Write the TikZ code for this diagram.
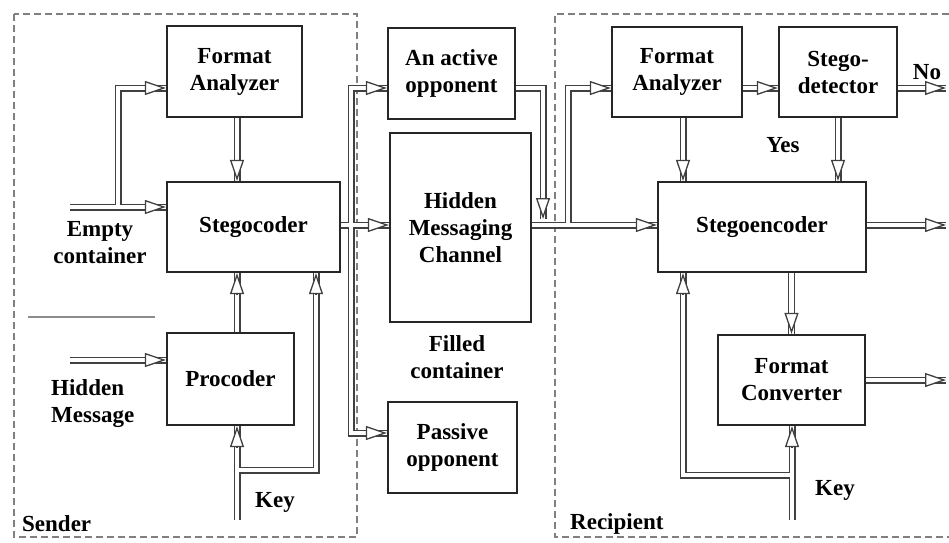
\documentclass[tikz,border=0pt]{standalone}
\usepackage{fontspec}
\setmainfont{Liberation Serif}
\usetikzlibrary{arrows.meta}
\pgfdeclarelayer{back}
\pgfsetlayers{back,main}
\begin{document}
\begin{tikzpicture}[x=1pt,y=-1pt,
  every node/.style={font=\fontsize{23}{27}\selectfont\bfseries},
  blk/.style 2 args={draw=black!85,line width=2.2pt,minimum width=#1,minimum height=#2,align=center,inner sep=0pt},
  lbl/.style={align=center,inner sep=0pt},
  pipe/.style={draw=black!75,line width=1.3pt,double=white,double distance=4.4pt},
  head/.style={draw=black!75,line width=1.3pt,-{Triangle[length=21pt,width=14pt,fill=white]}},
  frame/.style={draw=black!50,line width=1.3pt,dash pattern=on 7pt off 4pt}]
\useasboundingbox (0,0) rectangle (949,542);
\node[blk={135pt}{91pt}] (fa1) at (234.5,71.5) {Format\\Analyzer};
\node[blk={173pt}{90pt}] (sc) at (253.5,227) {Stegocoder};
\node[blk={127pt}{92pt}] (pc) at (230.5,379) {Procoder};
\node[blk={127pt}{91pt}] (act) at (451.5,73.5) {An active\\opponent};
\node[blk={141pt}{189pt}] (hmc) at (460.5,227.5) {Hidden\\Messaging\\Channel};
\node[blk={129pt}{91pt}] (pas) at (452.5,447.5) {Passive\\opponent};
\node[blk={130pt}{90pt}] (far) at (677,72) {Format\\Analyzer};
\node[blk={118pt}{90pt}] (sd) at (838,72) {Stego-\\detector};
\node[blk={208pt}{90pt}] (se) at (762,227) {Stegoencoder};
\node[blk={147pt}{90pt}] (fc) at (791.5,380) {Format\\Converter};
\node[lbl] (empty) at (100,243) {Empty\\container};
\node[lbl,align=left,anchor=west] (hidden) at (51,404) {Hidden\\Message};
\node[lbl] (filled) at (457,357) {Filled\\container};
\node[lbl] (key1) at (275,502) {Key};
\node[lbl] (key2) at (835,490) {Key};
\node[lbl] (no) at (927,72) {No};
\node[lbl] (yes) at (783,145) {Yes};
\node[lbl,anchor=west] (sender) at (22,524) {Sender};
\node[lbl,anchor=west] (recip) at (570,524) {Recipient};
\coordinate (ec) at (70,207);
\coordinate (hm) at (70,360);
\coordinate (k1) at (237,520);
\coordinate (drop) at (543,219);
\coordinate (noout) at (946,88);
\coordinate (seout) at (946,225);
\coordinate (fcout) at (946,380);
\coordinate (k2) at (792,520);
\begin{pgfonlayer}{back}
\draw[frame] (14,14) rectangle (357,537);
\draw[frame] (949,14) -| (555,537) -- (949,537);
\draw[black!45,line width=1.2pt] (28,317) -- (155,317);
\draw[pipe] (ec) -- (sc.west |- ec) (118,207) |- (fa1.west |- 0,88);
\draw[pipe] (hm) -- (pc.west |- hm);
\draw[pipe] (fa1.south -| 237,0) -- (sc.north -| 237,0);
\draw[pipe] (pc.north -| 237,0) -- (sc.south -| 237,0);
\draw[pipe] (k1) -- (pc.south -| k1) (k1 |- 0,470) -| (sc.south -| 316,0);
\draw[pipe] (sc.east |- 0,225) -- (hmc.west |- 0,225) (351,225) |- (act.west |- 0,88) (351,225) |- (pas.west |- 0,433);
\draw[pipe] (act.east |- 0,88) -| (drop);
\draw[pipe] (hmc.east |- 0,225) -- (se.west |- 0,225) (568,225) |- (far.west |- 0,88);
\draw[pipe] (far.east |- 0,88) -- (sd.west |- 0,88);
\draw[pipe] (sd.east |- 0,88) -- (noout);
\draw[pipe] (far.south -| 683,0) -- (se.north -| 683,0);
\draw[pipe] (sd.south) -- (se.north -| sd.south);
\draw[pipe] (se.east |- 0,225) -- (seout);
\draw[pipe] (se.south -| fc.north) -- (fc.north);
\draw[pipe] (fc.east) -- (fcout);
\draw[pipe] (k2) -- (fc.south -| k2) (k2 |- 0,475) -| (se.south -| 683,0);
\draw[head] (fa1.west |- 0,88) ++(-21,0) -- ++(21,0);
\draw[head] (sc.west |- ec) ++(-21,0) -- ++(21,0);
\draw[head] (pc.west |- hm) ++(-21,0) -- ++(21,0);
\draw[head] (act.west |- 0,88) ++(-21,0) -- ++(21,0);
\draw[head] (hmc.west |- 0,225) ++(-21,0) -- ++(21,0);
\draw[head] (pas.west |- 0,433) ++(-21,0) -- ++(21,0);
\draw[head] (far.west |- 0,88) ++(-21,0) -- ++(21,0);
\draw[head] (sd.west |- 0,88) ++(-21,0) -- ++(21,0);
\draw[head] (noout) ++(-21,0) -- ++(21,0);
\draw[head] (se.west |- 0,225) ++(-21,0) -- ++(21,0);
\draw[head] (seout) ++(-21,0) -- ++(21,0);
\draw[head] (fcout) ++(-21,0) -- ++(21,0);
\draw[head] (sc.north -| 237,0) ++(0,-21) -- ++(0,21);
\draw[head] (drop) ++(0,-21) -- ++(0,21);
\draw[head] (se.north -| 683,0) ++(0,-21) -- ++(0,21);
\draw[head] (se.north -| sd.south) ++(0,-21) -- ++(0,21);
\draw[head] (fc.north) ++(0,-21) -- ++(0,21);
\draw[head] (sc.south -| 237,0) ++(0,21) -- ++(0,-21);
\draw[head] (pc.south -| k1) ++(0,21) -- ++(0,-21);
\draw[head] (sc.south -| 316,0) ++(0,21) -- ++(0,-21);
\draw[head] (fc.south -| k2) ++(0,21) -- ++(0,-21);
\draw[head] (se.south -| 683,0) ++(0,21) -- ++(0,-21);
\end{pgfonlayer}
\end{tikzpicture}
\end{document}
